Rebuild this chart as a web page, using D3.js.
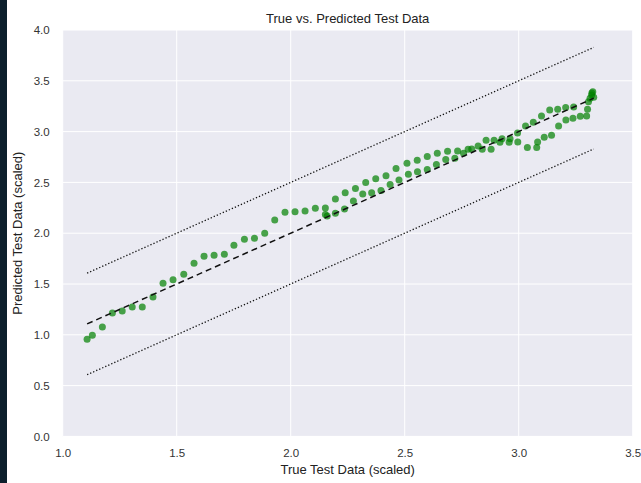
<!DOCTYPE html>
<html>
<head>
<meta charset="utf-8">
<script src="https://cdn.jsdelivr.net/npm/d3@7.9.0/dist/d3.min.js"></script>
<style>
  body { margin: 0; background: #fff; }
  svg { display: block; font-family: "Liberation Sans", Arial, sans-serif; }
</style>
</head>
<body>
<svg id="chart" width="641" height="483"></svg>
<script>
// true (x) and predicted (y) test values
const trueVals = [
  1.107, 1.130, 1.174, 1.218, 1.261, 1.305, 1.349, 1.396, 1.440, 1.484,
  1.531, 1.576, 1.620, 1.664, 1.709, 1.751, 1.797, 1.841, 1.886, 1.930,
  1.975, 2.019, 2.063, 2.108, 2.152, 2.152, 2.160,
  2.196, 2.239, 2.284, 2.329, 2.373, 2.418, 2.462, 2.510, 2.555, 2.599,
  2.643, 2.688, 2.732, 2.778, 2.822, 2.857, 2.892, 2.927, 2.962, 2.995,
  3.030, 3.064, 3.100, 3.136, 3.171, 3.206, 3.241,
  2.196, 2.236, 2.275, 2.316, 2.355, 2.396, 2.436, 2.475, 2.516, 2.556,
  2.599, 2.639, 2.680, 2.720, 2.758, 2.794, 2.840, 2.879, 2.918, 2.958,
  2.996, 3.038, 3.079, 3.083, 3.112, 3.144, 3.175, 3.207, 3.238, 3.270, 3.298,
  3.302, 3.306, 3.313, 3.320, 3.325, 3.329, 3.321
];
const predVals = [
  0.956, 0.995, 1.077, 1.215, 1.234, 1.274, 1.274, 1.372, 1.507, 1.542,
  1.595, 1.704, 1.773, 1.782, 1.792, 1.881, 1.941, 1.951, 2.000, 2.130,
  2.207, 2.211, 2.219, 2.246, 2.248, 2.184, 2.170,
  2.337, 2.399, 2.440, 2.499, 2.536, 2.566, 2.637, 2.688, 2.718, 2.755,
  2.786, 2.807, 2.809, 2.826, 2.858, 2.914, 2.914, 2.930, 2.930, 2.986,
  3.055, 3.093, 3.154, 3.213, 3.219, 3.237, 3.242,
  2.196, 2.238, 2.317, 2.386, 2.399, 2.420, 2.479, 2.524, 2.580, 2.605,
  2.627, 2.676, 2.725, 2.737, 2.786, 2.829, 2.826, 2.826, 2.895, 2.896,
  2.898, 2.844, 2.844, 2.898, 2.944, 2.964, 3.055, 3.114, 3.132, 3.152, 3.154,
  3.219, 3.294, 3.328, 3.360, 3.393, 3.338, 3.380
];
const xTicks = [1.0, 1.5, 2.0, 2.5, 3.0, 3.5];
const yTicks = [0.0, 0.5, 1.0, 1.5, 2.0, 2.5, 3.0, 3.5, 4.0];
const band = 0.5;

const svg = d3.select("#chart");
const margin = { left: 62.7, right: 8.3, top: 30, bottom: 46.6 };
const width = 641 - margin.left - margin.right;
const height = 483 - margin.top - margin.bottom;

// dark strip at left edge of the screenshot
svg.append("rect").attr("x", 0).attr("y", 0).attr("width", 7).attr("height", 483).attr("fill", "#0c1f2c");

const g = svg.append("g").attr("transform", `translate(${margin.left},${margin.top})`);

const x = d3.scaleLinear().domain([1.0, 3.5]).range([0, width]);
const y = d3.scaleLinear().domain([0, 4.0]).range([height, 0]);

g.append("rect").attr("width", width).attr("height", height).attr("fill", "#eaeaf2");

// grid
g.selectAll(".vgrid").data(xTicks).join("line")
  .attr("x1", d => x(d)).attr("x2", d => x(d))
  .attr("y1", 0).attr("y2", height)
  .attr("stroke", "#fff").attr("stroke-width", 1);
g.selectAll(".hgrid").data(yTicks).join("line")
  .attr("y1", d => y(d)).attr("y2", d => y(d))
  .attr("x1", 0).attr("x2", width)
  .attr("stroke", "#fff").attr("stroke-width", 1);

// tick labels
const xAxis = d3.axisBottom(x).tickValues(xTicks).tickFormat(d3.format(".1f")).tickSize(0).tickPadding(12);
const yAxis = d3.axisLeft(y).tickValues(yTicks).tickFormat(d3.format(".1f")).tickSize(0).tickPadding(13);
g.append("g").attr("transform", `translate(0,${height})`).call(xAxis)
  .call(a => a.select(".domain").remove())
  .selectAll("text").attr("font-size", 11.5).attr("fill", "#333").attr("font-family", "Liberation Sans, Arial, sans-serif");
g.append("g").call(yAxis)
  .call(a => a.select(".domain").remove())
  .selectAll("text").attr("font-size", 11.5).attr("fill", "#333").attr("font-family", "Liberation Sans, Arial, sans-serif");

// reference lines
const [lo, hi] = d3.extent(trueVals);
const line = d3.line().x(d => x(d[0])).y(d => y(d[1]));
g.append("path").attr("d", line([[lo, lo + band], [hi, hi + band]]))
  .attr("fill", "none").attr("stroke", "#111").attr("stroke-width", 1.3).attr("stroke-dasharray", "1.3,2");
g.append("path").attr("d", line([[lo, lo - band], [hi, hi - band]]))
  .attr("fill", "none").attr("stroke", "#111").attr("stroke-width", 1.3).attr("stroke-dasharray", "1.3,2");

// points
const pts = trueVals.map((t, i) => [t, predVals[i]]);
g.selectAll("circle").data(pts).join("circle")
  .attr("cx", d => x(d[0])).attr("cy", d => y(d[1])).attr("r", 3.5)
  .attr("fill", "#008000").attr("fill-opacity", 0.7);

g.append("path").attr("d", line([[lo, lo], [hi, hi]]))
  .attr("fill", "none").attr("stroke", "#111").attr("stroke-width", 1.5).attr("stroke-dasharray", "6,4");

// titles
svg.append("text").attr("x", margin.left + width / 2).attr("y", 23)
  .attr("text-anchor", "middle").attr("font-size", 13).attr("fill", "#222")
  .text("True vs. Predicted Test Data");
svg.append("text").attr("x", margin.left + width / 2).attr("y", 474)
  .attr("text-anchor", "middle").attr("font-size", 13).attr("fill", "#222")
  .text("True Test Data (scaled)");
svg.append("text").attr("transform", `translate(22,${margin.top + height / 2}) rotate(-90)`)
  .attr("text-anchor", "middle").attr("font-size", 13).attr("fill", "#222")
  .text("Predicted Test Data (scaled)");
</script>
</body>
</html>
